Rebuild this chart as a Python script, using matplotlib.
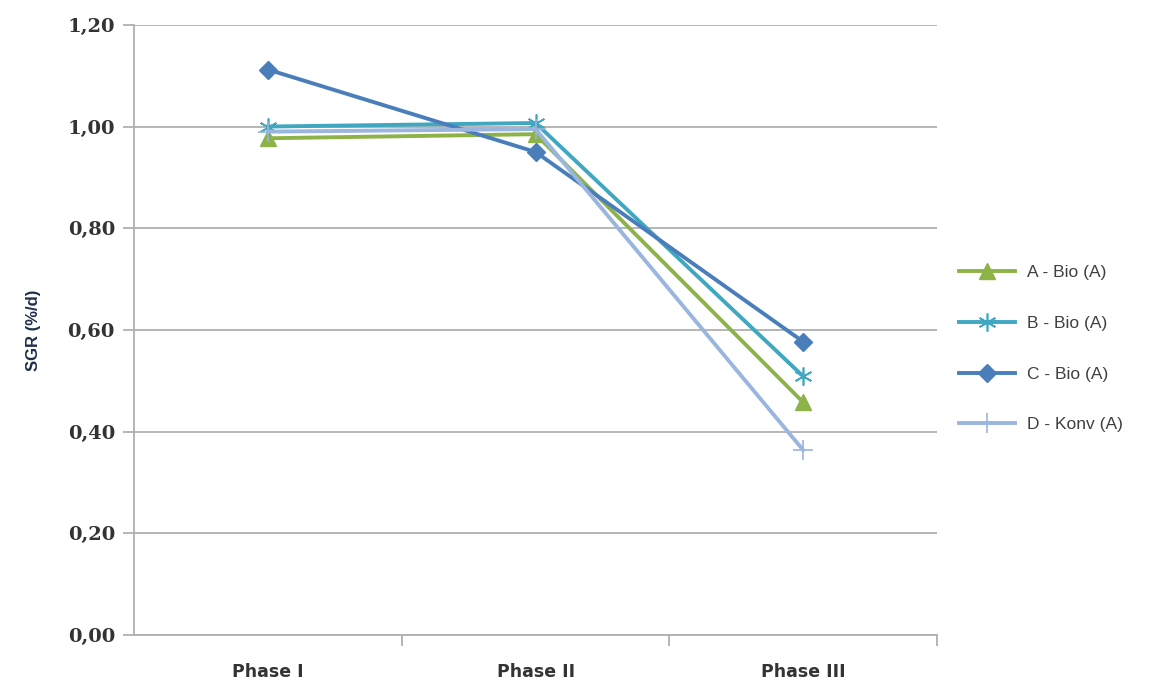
import matplotlib
matplotlib.use("Agg")
import matplotlib.pyplot as plt
from matplotlib.ticker import FixedLocator, FuncFormatter

# data
phases = ["Phase I", "Phase II", "Phase III"]
a_bio = [0.977, 0.985, 0.458]
b_bio = [1.000, 1.007, 0.509]
c_bio = [1.112, 0.950, 0.577]
d_konv = [0.990, 0.995, 0.364]

labels = ["A - Bio (A)", "B - Bio (A)", "C - Bio (A)", "D - Konv (A)"]
COLS = ["#8db348", "#3fa7c0", "#4a7ebb", "#9ab5de"]
MARKERS = ["^", (6, 2, 0), "D", "+"]
MSIZES = [11, 13, 9, 14]

fig = plt.figure(figsize=(11.58, 6.81), dpi=100)
ax = fig.add_axes([0.116, 0.0675, 0.693, 0.896])

x = range(len(phases))
series = [a_bio, b_bio, c_bio, d_konv]
# draw D first so the darker lines sit on top
order = [3, 0, 1, 2]
handles = [None] * 4
for i in order:
    mew = 1.2 if i in (1, 3) else 1
    h, = ax.plot(x, series[i], color=COLS[i], lw=2.8, marker=MARKERS[i],
                 markersize=MSIZES[i], markeredgewidth=mew,
                 markeredgecolor=COLS[i], zorder=3 + i)
    handles[i] = h

ax.set_xlim(-0.5, 2.5)
ax.set_ylim(0, 1.2)
ax.set_yticks([0, 0.2, 0.4, 0.6, 0.8, 1.0, 1.2])
ax.yaxis.set_major_formatter(FuncFormatter(lambda v, p: f"{v:.2f}".replace(".", ",")))
ax.yaxis.grid(True, color="#b0b0b0", lw=1.3)
ax.set_axisbelow(True)

ax.set_xticks(list(x))
ax.set_xticklabels(phases, fontsize=12.5, fontweight="bold",
                   family="Liberation Sans Narrow", color="#333333")
ax.xaxis.set_minor_locator(FixedLocator([0.5, 1.5, 2.5]))
ax.tick_params(axis="x", which="major", length=0, pad=20)
ax.tick_params(axis="x", which="minor", length=8, width=1.3, color="#b0b0b0")
ax.tick_params(axis="y", length=8, width=1.3, color="#b0b0b0", pad=6)
for t in ax.get_yticklabels():
    t.set_family("DejaVu Serif")
    t.set_fontweight("bold")
    t.set_fontsize(14)
    t.set_color("#333333")

for s in ["top", "right"]:
    ax.spines[s].set_visible(False)
for s in ["left", "bottom"]:
    ax.spines[s].set_color("#b0b0b0")
    ax.spines[s].set_linewidth(1.3)

ax.set_ylabel("SGR (%/d)", fontsize=12, fontweight="bold",
              family="Liberation Sans", color="#1f2f4a", labelpad=19)

leg = fig.legend(handles, labels, loc="center left",
                 bbox_to_anchor=(0.815, 0.488), frameon=False,
                 labelspacing=2.05, handlelength=3.2,
                 handletextpad=0.7, prop={"family": "Liberation Sans", "size": 12.5})
for t in leg.get_texts():
    t.set_color("#404040")

fig.savefig("out.png", dpi=100)
